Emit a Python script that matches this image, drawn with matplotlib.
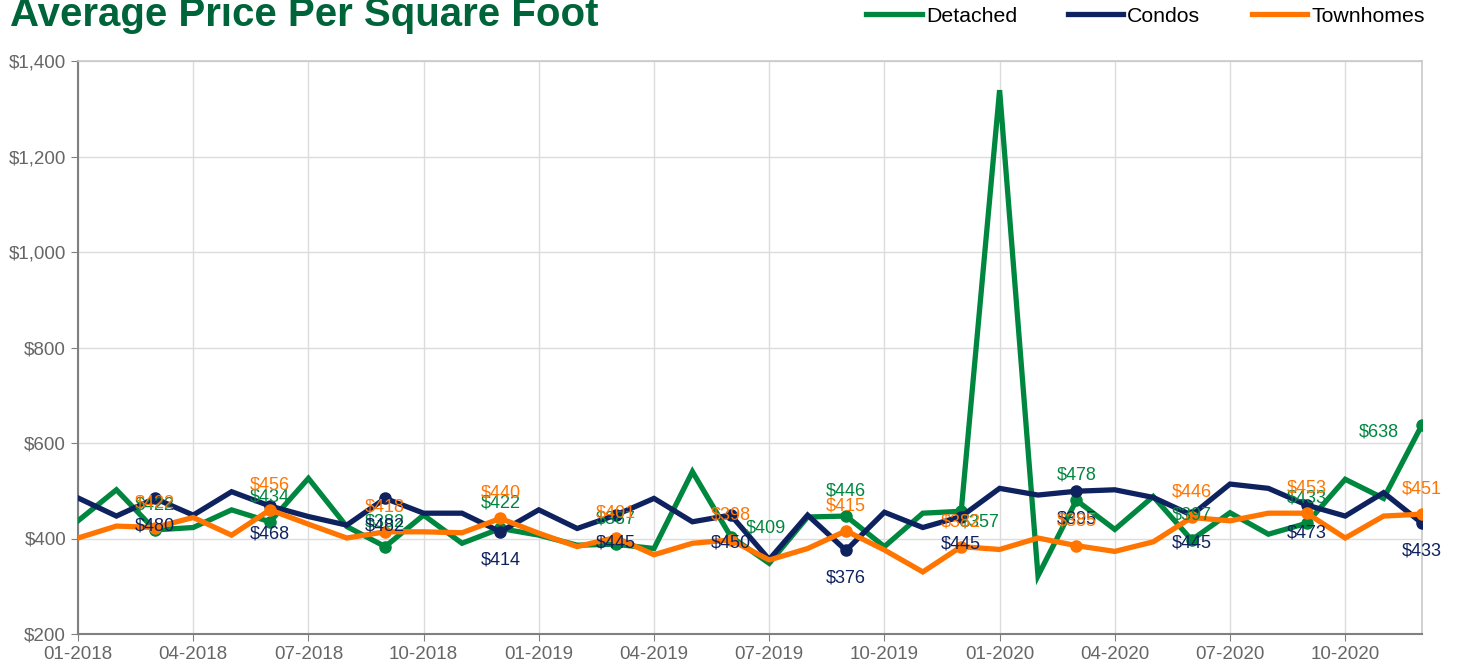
import matplotlib
matplotlib.use("Agg")
import matplotlib.pyplot as plt
from matplotlib.ticker import FuncFormatter

plt.rcParams['font.family'] = ['Liberation Sans', 'DejaVu Sans']

# monthly values, 01-2018 .. 12-2020
months = [f"{m:02d}-{y}" for y in (2018, 2019, 2020) for m in range(1, 13)]

detached = [437, 502, 418, 423, 460, 435, 526, 425, 383, 449, 390, 421,
            407, 386, 388, 379, 540, 404, 348, 445, 447, 383, 453, 457,
            1339, 322, 480, 419, 488, 397, 454, 409, 432, 524, 484, 638]
condos = [485, 447, 484, 449, 498, 468, 446, 428, 484, 453, 453, 414,
          460, 421, 449, 484, 435, 449, 356, 449, 375, 455, 423, 446,
          505, 491, 499, 502, 486, 449, 514, 505, 470, 447, 496, 432]
townhomes = [401, 426, 423, 444, 407, 460, 430, 401, 414, 414, 412, 442,
             411, 383, 402, 366, 390, 397, 355, 379, 416, 376, 330, 383,
             377, 401, 385, 373, 393, 444, 437, 453, 453, 401, 447, 451]

# labelled every third month, starting at 03-2018
label_idx = list(range(2, 36, 3))
detached_labels = [422, 434, 382, 422, 387, 409, 446, 357, 478, 397, 433, 638]
condos_labels = [480, 468, 482, 414, 445, 450, 376, 445, 395, 445, 473, 433]
townhomes_labels = [422, 456, 418, 440, 401, 398, 415, 382, 385, 446, 453, 451]

GREEN = '#00873f'
NAVY = '#0f2260'
ORANGE = '#ff7500'

fig = plt.figure(figsize=(14.58, 6.67), dpi=100)
ax = fig.add_axes([78 / 1458, 33 / 667, 1344 / 1458, 573 / 667])

x = list(range(len(months)))
series = [
    ('Detached', detached, detached_labels, GREEN, 18),
    ('Condos', condos, condos_labels, NAVY, -20),
    ('Townhomes', townhomes, townhomes_labels, ORANGE, 18),
]

# a few labels sit off the default spot in the original
shifts = {('Detached', 17): (25, 6), ('Detached', 23): (13, -8),
          ('Detached', 35): (-31, -5)}

for name, vals, labels, color, dy in series:
    ax.plot(x, vals, color=color, lw=3.8, label=name, solid_joinstyle='miter',
            zorder=3)
    ax.plot(label_idx, [vals[i] for i in label_idx], 'o', color=color, ms=8,
            zorder=3)
    for i, lab in zip(label_idx, labels):
        off = shifts.get((name, i), (0, dy))
        ax.annotate(f"${lab}", (i, vals[i]), xytext=off,
                    textcoords='offset points', ha='center', va='center',
                    fontsize=13, color=color, zorder=4)

ax.set_xlim(0, 35)
ax.set_ylim(200, 1400)
ax.set_xticks(x[::3])
ax.set_xticklabels(months[::3])
ax.set_yticks(range(200, 1401, 200))
ax.yaxis.set_major_formatter(FuncFormatter(lambda v, p: f"${v:,.0f}"))
ax.tick_params(labelsize=13.5, colors='#808080', labelcolor='#666666', length=5)
ax.grid(True, color='#dcdcdc', lw=1, zorder=0)
for s in ('left', 'bottom'):
    ax.spines[s].set_color('#808080')
    ax.spines[s].set_linewidth(1.5)
for s in ('top', 'right'):
    ax.spines[s].set_color('#c8c8c8')
    ax.spines[s].set_linewidth(1.2)

fig.text(10 / 1458, 1 - 26 / 667, 'Average Price Per Square Foot',
         family=['Liberation Sans Narrow', 'Liberation Sans'], weight='bold',
         fontsize=29, color='#00643a', va='baseline', ha='left')

fig.legend(loc='center right', bbox_to_anchor=(1433 / 1458, 1 - 16 / 667),
           ncol=3, frameon=False, fontsize=15.3, handlelength=2.6,
           handletextpad=0.2, columnspacing=2.4, borderaxespad=0)

fig.savefig('out.png', dpi=100)
